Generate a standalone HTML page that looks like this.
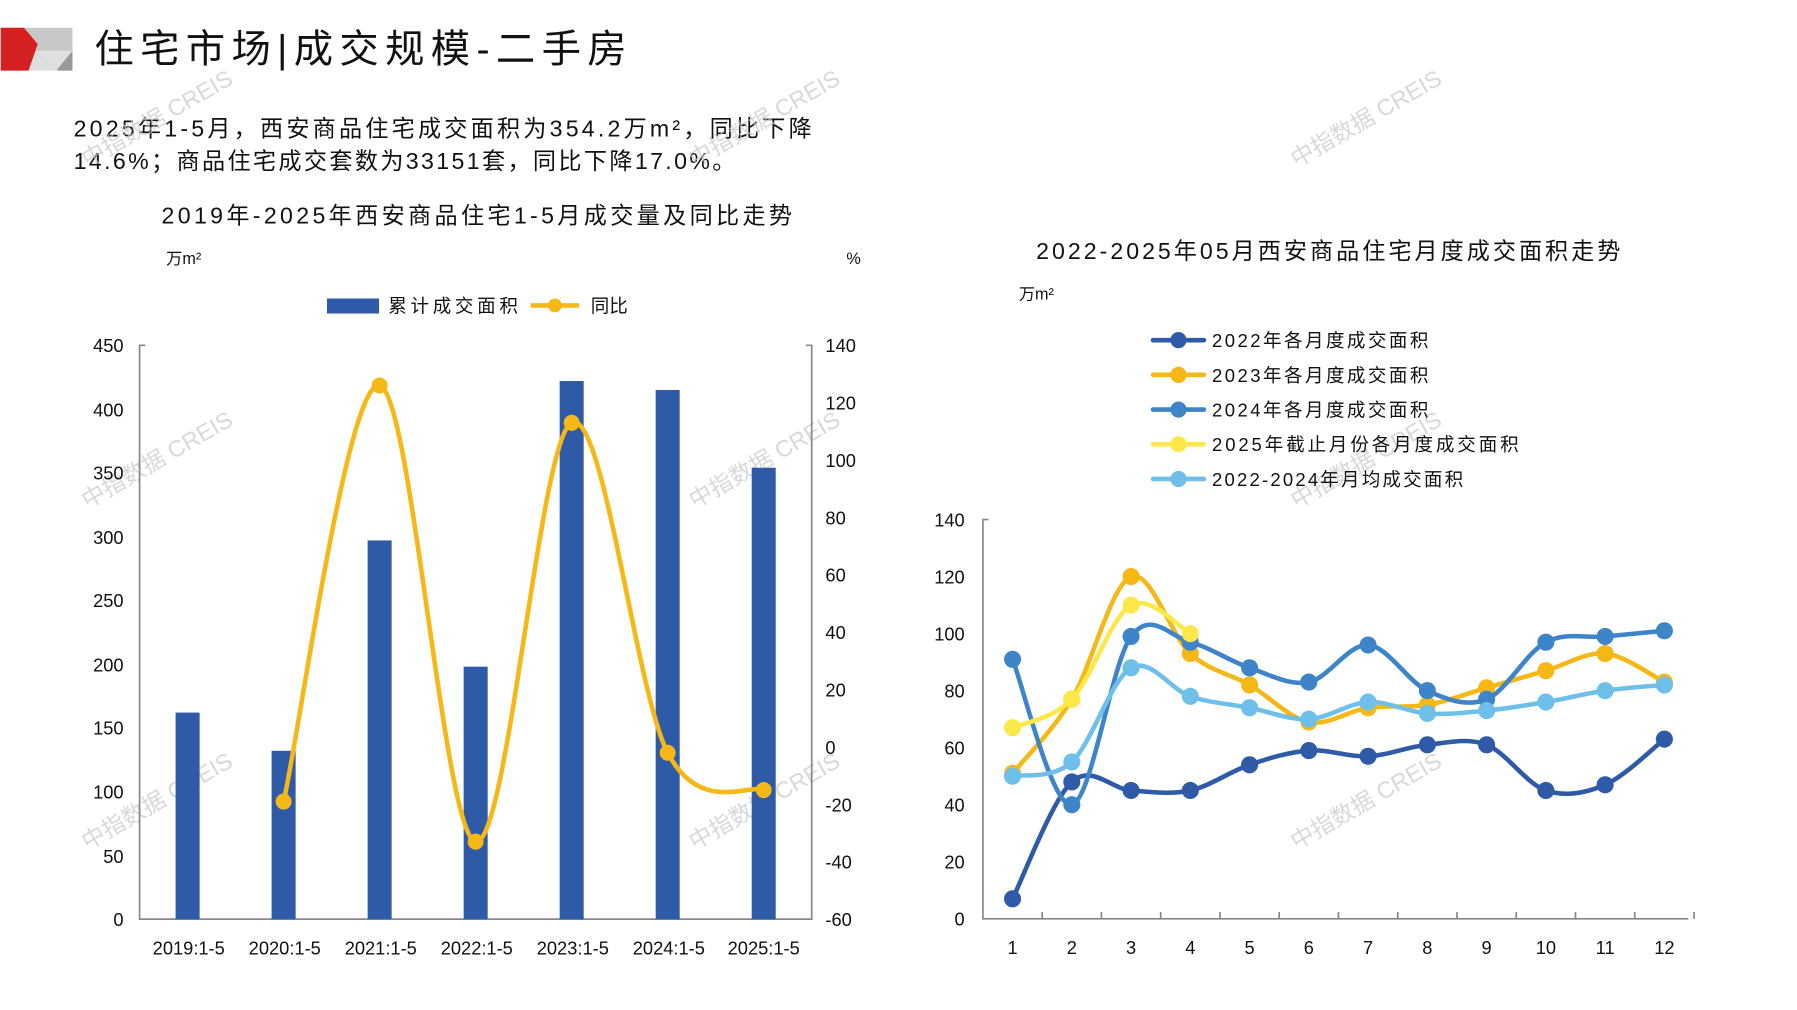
<!DOCTYPE html>
<html><head><meta charset="utf-8">
<style>
html,body{margin:0;padding:0;background:#fff;}
svg{display:block;}
text{font-family:"Liberation Sans","Noto Sans CJK SC",sans-serif;fill:#111;}
</style></head>
<body>
<svg id="s" width="1797" height="1010" viewBox="0 0 1552 873" xmlns="http://www.w3.org/2000/svg">
<rect width="1552" height="873" fill="#fff"/>
<rect x="0" y="24" width="62" height="37" fill="#c8c8c8"/>
<polygon points="30,44 62,44 62,61 50,61" fill="#e0e0e0"/>
<polygon points="48,61 62,44 62,61" fill="#999"/>
<polygon points="24,61 30,44 50,61" fill="#dedede"/>
<polygon points="0,24 20,24 32,38 24,61 0,61" fill="#d42020"/>
<text x="81" y="54" font-size="34" textLength="460" lengthAdjust="spacing">住宅市场|成交规模-二手房</text>
<text x="63" y="118" font-size="20" textLength="638" lengthAdjust="spacing">2025年1-5月，西安商品住宅成交面积为354.2万m²，同比下降</text>
<text x="63" y="146" font-size="20" textLength="572" lengthAdjust="spacing">14.6%；商品住宅成交套数为33151套，同比下降17.0%。</text>

<g font-size="20" opacity="0.7">
<text transform="translate(75,145) rotate(-30)" style="fill:#c8c8c8">中指数据 CREIS</text>
<text transform="translate(600,145) rotate(-30)" style="fill:#c8c8c8">中指数据 CREIS</text>
<text transform="translate(1120,145) rotate(-30)" style="fill:#c8c8c8">中指数据 CREIS</text>
<text transform="translate(75,440) rotate(-30)" style="fill:#c8c8c8">中指数据 CREIS</text>
<text transform="translate(600,440) rotate(-30)" style="fill:#c8c8c8">中指数据 CREIS</text>
<text transform="translate(1120,440) rotate(-30)" style="fill:#c8c8c8">中指数据 CREIS</text>
<text transform="translate(75,735) rotate(-30)" style="fill:#c8c8c8">中指数据 CREIS</text>
<text transform="translate(600,735) rotate(-30)" style="fill:#c8c8c8">中指数据 CREIS</text>
<text transform="translate(1120,735) rotate(-30)" style="fill:#c8c8c8">中指数据 CREIS</text>
</g>

<text x="139" y="193" font-size="20" textLength="545" lengthAdjust="spacing">2019年-2025年西安商品住宅1-5月成交量及同比走势</text>
<text x="143" y="228" font-size="14">万m²</text>
<text x="731" y="228" font-size="14">%</text>
<rect x="282" y="258" width="45" height="13" fill="#2e5aa8"/>
<text x="335" y="270" font-size="16" textLength="112" lengthAdjust="spacing">累计成交面积</text>
<line x1="458" y1="264" x2="500" y2="264" stroke="#f6b817" stroke-width="4"/>
<circle cx="479" cy="264" r="6" fill="#f6b817"/>
<text x="510" y="270" font-size="16">同比</text>
<g transform="matrix(0.988,0,0,0.992,-0.5,-1.1)">
<path d="M127,302 H122 V802 H710 V302 H705" stroke="#888" stroke-width="1.5" fill="none"/>
<g font-size="16" text-anchor="end">
<text x="108" y="308">450</text><text x="108" y="364">400</text><text x="108" y="419">350</text>
<text x="108" y="475">300</text><text x="108" y="530">250</text><text x="108" y="586">200</text>
<text x="108" y="641">150</text><text x="108" y="697">100</text><text x="108" y="753">50</text>
<text x="108" y="808">0</text>
</g>
<g font-size="16" text-anchor="start">
<text x="722" y="308">140</text><text x="722" y="358">120</text><text x="722" y="408">100</text>
<text x="722" y="458">80</text><text x="722" y="508">60</text><text x="722" y="558">40</text>
<text x="722" y="608">20</text><text x="722" y="658">0</text><text x="722" y="708">-20</text>
<text x="722" y="758">-40</text><text x="722" y="808">-60</text>
</g>
<g font-size="16" text-anchor="middle">
<text x="165" y="833">2019:1-5</text><text x="249" y="833">2020:1-5</text><text x="333" y="833">2021:1-5</text>
<text x="417" y="833">2022:1-5</text><text x="501" y="833">2023:1-5</text><text x="585" y="833">2024:1-5</text>
<text x="668" y="833">2025:1-5</text>
</g>
<g id="bars" fill="#2e5aa8"></g>
<g id="lline"></g>
</g>

<text x="895" y="224" font-size="20" textLength="505" lengthAdjust="spacing">2022-2025年05月西安商品住宅月度成交面积走势</text>
<text x="880" y="259" font-size="14">万m²</text>
<g id="rleg"></g>
<g font-size="16" text-anchor="start">
<text x="1047" y="300" textLength="187" lengthAdjust="spacing">2022年各月度成交面积</text>
<text x="1047" y="330" textLength="187" lengthAdjust="spacing">2023年各月度成交面积</text>
<text x="1047" y="360" textLength="187" lengthAdjust="spacing">2024年各月度成交面积</text>
<text x="1047" y="390" textLength="265" lengthAdjust="spacing">2025年截止月份各月度成交面积</text>
<text x="1047" y="420" textLength="217" lengthAdjust="spacing">2022-2024年月均成交面积</text>
</g>
<g transform="matrix(0.985,0,0,0.986,-0.1,3.4)">
<path d="M867,452 H862 V802 H1481" stroke="#888" stroke-width="1.5" fill="none"/>
<g id="rticks" stroke="#888" stroke-width="1.5"></g>
<g font-size="16" text-anchor="end">
<text x="846" y="458">140</text><text x="846" y="508">120</text><text x="846" y="558">100</text>
<text x="846" y="608">80</text><text x="846" y="658">60</text><text x="846" y="708">40</text>
<text x="846" y="758">20</text><text x="846" y="808">0</text>
</g>
<g font-size="16" text-anchor="middle">
<text x="888" y="833">1</text><text x="940" y="833">2</text><text x="992" y="833">3</text>
<text x="1044" y="833">4</text><text x="1096" y="833">5</text><text x="1148" y="833">6</text>
<text x="1200" y="833">7</text><text x="1252" y="833">8</text><text x="1304" y="833">9</text>
<text x="1356" y="833">10</text><text x="1408" y="833">11</text><text x="1460" y="833">12</text>
</g>
<g id="rlines"></g>
</g>
</svg>
<script>
var NS="http://www.w3.org/2000/svg";
function el(p,t,a){var e=document.createElementNS(NS,t);for(var k in a)e.setAttribute(k,a[k]);p.appendChild(e);return e;}
function smooth(pts){var d="M"+pts[0][0]+","+pts[0][1];var t=1/6;
for(var i=0;i<pts.length-1;i++){var p0=pts[i-1]||pts[i],p1=pts[i],p2=pts[i+1],p3=pts[i+2]||p2;
d+=" C"+(p1[0]+(p2[0]-p0[0])*t)+","+(p1[1]+(p2[1]-p0[1])*t)+" "+(p2[0]-(p3[0]-p1[0])*t)+","+(p2[1]-(p3[1]-p1[1])*t)+" "+p2[0]+","+p2[1];}
return d;}
var cx=[164,248,332,416,500,584,668],bv=[162,132,297,198,422,415,354];
var bars=document.getElementById("bars");
for(var i=0;i<7;i++){var y=802-bv[i]*500/450;el(bars,"rect",{x:cx[i]-10.5,y:y,width:21,height:802-y});}
var yv=[-19,126,-33,113,-2,-15],lp=[];
for(var i=0;i<6;i++)lp.push([cx[i+1],802-(yv[i]+60)*2.5]);
var g=document.getElementById("lline");
el(g,"path",{d:smooth(lp),stroke:"#f6b817","stroke-width":4,fill:"none"});
lp.forEach(function(p){el(g,"circle",{cx:p[0],cy:p[1],r:7,fill:"#f6b817"});});
var rt=document.getElementById("rticks");
for(var i=1;i<=12;i++){var x=862+i*52;el(rt,"line",{x1:x,y1:796,x2:x,y2:802});}
var series=[
["#2e5aa8",[7,48,45,45,54,59,57,61,61,45,47,63]],
["#f6b817",[51,77,120,93,82,69,74,75,81,87,93,83]],
["#3d85c8",[91,40,99,97,88,83,96,80,77,97,99,101]],
["#fde84a",[67,77,110,100]],
["#6ec0ea",[50,55,88,78,74,70,76,72,73,76,80,82]]];
var rl=document.getElementById("rlines"),lg=document.getElementById("rleg");
series.forEach(function(s,k){var pts=s[1].map(function(v,i){return [888+i*52,802-v*2.5];});
el(rl,"path",{d:smooth(pts),stroke:s[0],"stroke-width":4,fill:"none"});
pts.forEach(function(p){el(rl,"circle",{cx:p[0],cy:p[1],r:7.5,fill:s[0]});});
var ly=294+k*30;el(lg,"line",{x1:996,y1:ly,x2:1040,y2:ly,stroke:s[0],"stroke-width":4,"stroke-linecap":"round"});
el(lg,"circle",{cx:1018,cy:ly,r:7,fill:s[0]});});
</script>
</body></html>
